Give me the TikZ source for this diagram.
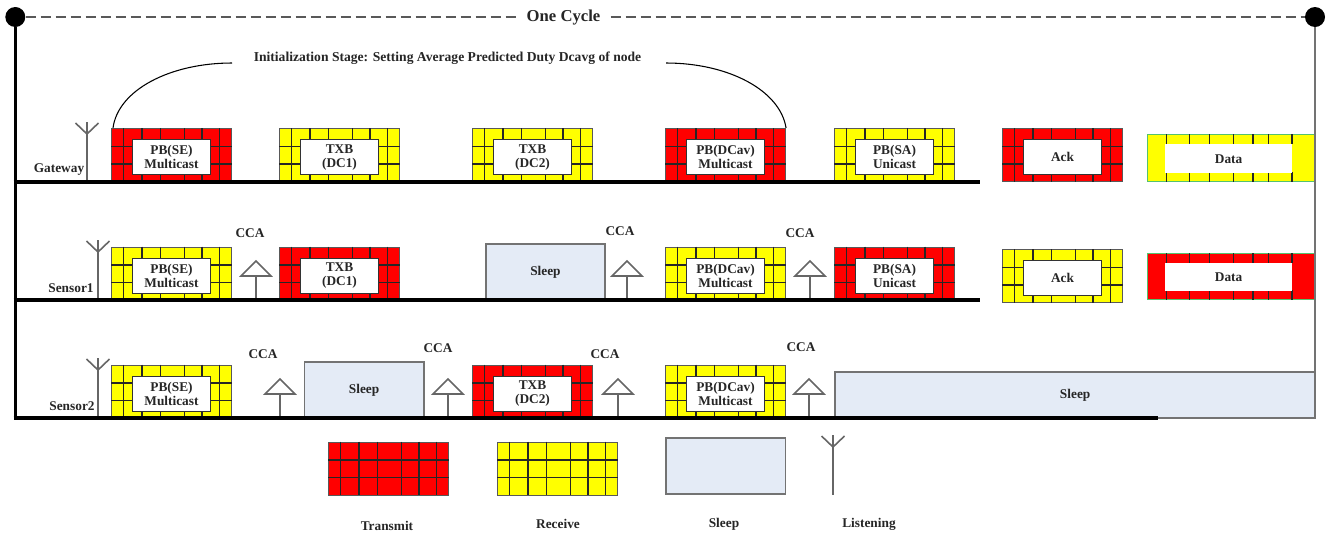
\documentclass[tikz,border=0pt]{standalone}
\usepackage{fontspec}
\setmainfont{Liberation Serif}
\usetikzlibrary{arrows.meta}
\definecolor{sleepfill}{HTML}{E4EBF6}
\definecolor{databorder}{HTML}{55C26E}
\definecolor{lblcolor}{HTML}{262626}
\definecolor{rxyellow}{RGB}{255,255,0}
\definecolor{txred}{RGB}{255,0,0}
\tikzset{
  lbl/.style={font=\bfseries\fontsize{10}{10.5}\selectfont, text=lblcolor, align=center, inner sep=0pt},
  gridbox/.style={draw=gray!70!black, line width=0.8pt, anchor=north west, inner sep=0pt, minimum width=90pt, minimum height=40pt},
  gridline/.style={black!85, line width=1.1pt},
  whitebox/.style={lbl, draw=black!80, fill=white, line width=0.75pt, anchor=north west, minimum width=58.5pt, minimum height=26.5pt},
  sleepbox/.style={lbl, draw=gray!90!black, fill=sleepfill, line width=1.2pt, anchor=north west, inner sep=0pt},
  baseln/.style={black, line width=2.4pt},
  antline/.style={gray!80!black, line width=1.2pt},
  dot/.style={circle, fill=black, inner sep=0pt, minimum size=15pt}
}
% grid block without text: name, left, top, colour
\newcommand{\gridblock}[4]{
  \node[gridbox, fill=#4] (#1) at (#2,#3) {};
  \foreach \dx in {12.6,31,49.3,73.3,91,108.3}
    \draw[gridline] ({#2+\dx},#3) -- ({#2+\dx},{#3+53.5});
  \foreach \dy in {18.7,36}
    \draw[gridline] (#2,{#3+\dy}) -- ({#2+120.5},{#3+\dy});
}
% grid block with the white text box
\newcommand{\txtblock}[5]{
  \gridblock{#1}{#2}{#3}{#4}
  \node[whitebox] (#1-txt) at ({#2+21},{#3+11}) {#5};
}
% data block: name, top, height, colour
\newcommand{\datablock}[4]{
  \node[gridbox, draw=databorder, line width=1.1pt, fill=#4, minimum width=126pt, minimum height=#3*0.75pt-0.8pt] (#1) at (1147,#2) {};
  \foreach \dx in {19.3,42.7,62.7,86.7,106,121.7,145} {
    \draw[gridline] ({1147+\dx},#2) -- ({1147+\dx},{#2+10});
    \draw[gridline] ({1147+\dx},{#2+#3-10}) -- ({1147+\dx},{#2+#3});
  }
  \node[lbl, fill=white, anchor=north west, minimum width=95pt, minimum height=(#3-19)*0.75pt] (#1-txt) at (1165,{#2+10}) {Data};
}
% antenna: name, x, top, bottom
\newcommand{\antenna}[4]{
  \coordinate (#1-top) at (#2,#3);
  \coordinate (#1-fork) at (#2,{#3+12});
  \coordinate (#1-bot) at (#2,#4);
  \draw[antline] (#1-top) -- (#1-bot);
  \draw[antline] ({#2-11.5},{#3+1}) -- (#1-fork) -- ({#2+11.5},{#3+1});
}
% cca mark: name, x, baseline
\newcommand{\ccamark}[3]{
  \coordinate (#1-apex) at (#2,{#3-39});
  \coordinate (#1-base) at (#2,{#3-24});
  \coordinate (#1-bot) at (#2,#3);
  \draw[antline, fill=white] (#1-apex) -- ({#2+15},{#3-24}) -- ({#2-15},{#3-24}) -- cycle;
  \draw[antline] (#1-base) -- (#1-bot);
}

\begin{document}
\begin{tikzpicture}[x=0.75pt,y=-0.75pt]
    \useasboundingbox (0,0) rectangle (1330,533);

    % cycle
    \node[dot] (cycleleft) at (15.3,17) {};
    \node[dot] (cycleright) at (1315,17) {};
    \draw[gray!70!black, line width=1.2pt, dash pattern=on 7.5pt off 3.75pt] (cycleleft) -- (cycleright);
    \node[lbl, fill=white, inner xsep=4.9pt, inner ysep=1pt, font=\bfseries\fontsize{12.5}{14}\selectfont] (cyclelbl) at (563.5,18) {One Cycle};

    % gateway
    \txtblock{gwse}{111}{128}{txred}{PB(SE)\\Multicast}
    \txtblock{gwdca}{279}{128}{rxyellow}{TXB\\(DC1)}
    \txtblock{gwdcb}{472}{128}{rxyellow}{TXB\\(DC2)}
    \txtblock{gwdcav}{665}{128}{txred}{PB(DCav)\\Multicast}
    \txtblock{gwsa}{834}{128}{rxyellow}{PB(SA)\\Unicast}
    \txtblock{gwack}{1002}{128}{txred}{Ack}
    \datablock{gwdata}{134}{48}{rxyellow}

    % sensor 1
    \txtblock{sase}{111}{246.5}{rxyellow}{PB(SE)\\Multicast}
    \txtblock{sadca}{279}{246.5}{txred}{TXB\\(DC1)}
    \node[sleepbox, minimum width=89.5pt, minimum height=42.25pt] (saslp) at (485,243) {Sleep};
    \txtblock{sadcav}{665}{246.5}{rxyellow}{PB(DCav)\\Multicast}
    \txtblock{sasa}{834}{246.5}{txred}{PB(SA)\\Unicast}
    \txtblock{saack}{1002}{249}{rxyellow}{Ack}
    \datablock{sadata}{253}{47}{txred}

    % sensor 2
    \txtblock{sbse}{111}{364.5}{rxyellow}{PB(SE)\\Multicast}
    \node[sleepbox, minimum width=89.75pt, minimum height=42.25pt] (sbslpa) at (303.5,361) {Sleep};
    \txtblock{sbdcb}{472}{364.5}{txred}{TXB\\(DC2)}
    \txtblock{sbdcav}{665}{364.5}{rxyellow}{PB(DCav)\\Multicast}
    \node[sleepbox, minimum width=360.5pt, minimum height=34.75pt] (sbslpb) at (834,371) {Sleep};

    % stage
    \node[lbl, font=\bfseries\fontsize{10.2}{12}\selectfont] (stagelbl) at (447.5,58.5) {Initialization Stage: Setting Average Predicted Duty Dcavg of node};
    \coordinate (stageleft) at (232,63);
    \coordinate (stageright) at (666,63);
    \draw[black, line width=0.8pt] ([xshift=1.5pt]gwse.north west) .. controls (118,90) and (170,63) .. (stageleft);
    \draw[black, line width=0.8pt] (stageright) .. controls (728,63) and (780,90) .. (gwdcav.north east);

    % antennas
    \antenna{antgw}{87}{122}{182}
    \antenna{antsa}{98}{240}{300}
    \antenna{antsb}{98}{358}{418}

    % cca
    \ccamark{ccaaa}{256}{300}
    \ccamark{ccaab}{627}{300}
    \ccamark{ccaac}{810}{300}
    \ccamark{ccaba}{280}{418}
    \ccamark{ccabb}{448}{418}
    \ccamark{ccabc}{618}{418}
    \ccamark{ccabd}{809}{418}
    \node[lbl] (ccalaa) at (250,233) {CCA};
    \node[lbl] (ccalab) at (620,231) {CCA};
    \node[lbl] (ccalac) at (800,233) {CCA};
    \node[lbl] (ccalba) at (263,354) {CCA};
    \node[lbl] (ccalbb) at (438,348) {CCA};
    \node[lbl] (ccalbc) at (605,354) {CCA};
    \node[lbl] (ccalbd) at (801,347) {CCA};

    % row names
    \node[lbl] (gwlbl) at (59,169.5) {Gateway};
    \node[lbl] (salbl) at (71,288) {Sensor1};
    \node[lbl] (sblbl) at (72,406) {Sensor2};

    % time lines
    \coordinate (gwl) at (13.5,182);
    \coordinate (gwr) at (980,182);
    \coordinate (sal) at (13.5,300);
    \coordinate (sar) at (980,300);
    \coordinate (sbs) at (15.3,418);
    \coordinate (sbl) at (13.5,418);
    \coordinate (sbr) at (1158,418);
    \coordinate (endr) at (1315,418);
    \draw[gray!90!black, line width=1.5pt] (cycleright) -- (endr);
    \draw[baseln] (cycleleft) -- (sbs);
    \draw[baseln] (gwl) -- (gwr);
    \draw[baseln] (sal) -- (sar);
    \draw[baseln] (sbl) -- (sbr);

    % legend
    \gridblock{legtx}{328}{441.5}{txred}
    \gridblock{legrx}{497}{441.5}{rxyellow}
    \node[sleepbox, minimum width=89.75pt, minimum height=42.25pt] (legslp) at (665,437) {};
    \antenna{legant}{833}{435}{495}
    \node[lbl] (legtxlbl) at (387,526) {Transmit};
    \node[lbl] (legrxlbl) at (558,524) {Receive};
    \node[lbl] (legslplbl) at (724,524) {Sleep};
    \node[lbl] (legantlbl) at (869,524) {Listening};
\end{tikzpicture}
\end{document}
